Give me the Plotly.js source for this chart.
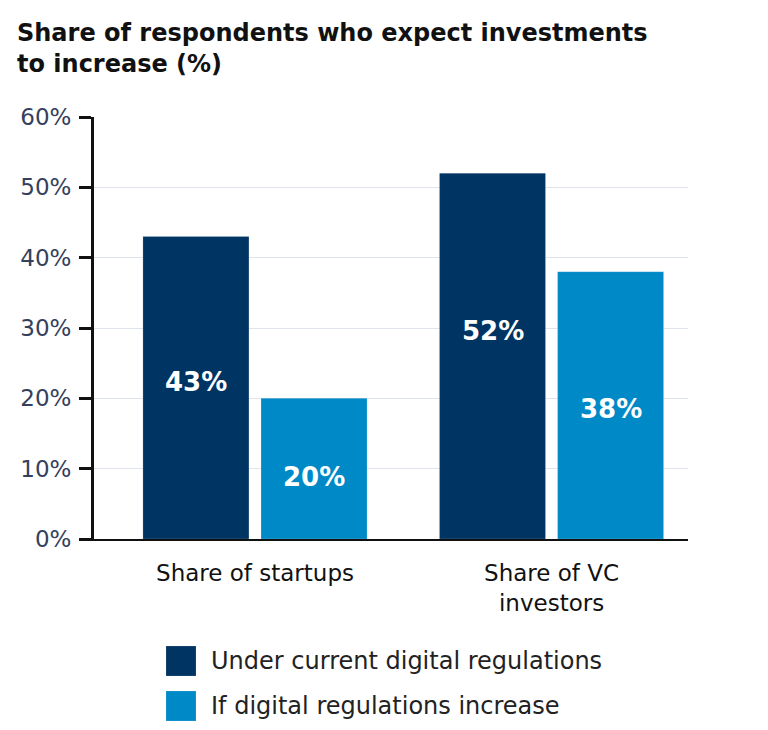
<!DOCTYPE html>
<html>
<head>
<meta charset="utf-8">
<script src="https://cdn.plot.ly/plotly-3.0.1.min.js"></script>
<style>
  html, body { margin: 0; padding: 0; background: #ffffff; }
  #chart { width: 768px; height: 730px; }
</style>
</head>
<body>
<div id="chart"></div>
<script>
// Survey categories and the two scenarios
const categories = ['Share of startups', 'Share of VC<br>investors'];
const seriesNames = ['Under current digital regulations', 'If digital regulations increase'];
const currentRegs = [43, 52];
const moreRegs = [20, 38];
const yTickVals = [0, 10, 20, 30, 40, 50, 60];
const yTickText = ['0%', '10%', '20%', '30%', '40%', '50%', '60%'];

const colors = ['#003462', '#0089C7'];
const values = [currentRegs, moreRegs];
const FONT = 'DejaVu Sans';

// plot area geometry (px)
const W = 768, H = 730;
const M = { l: 94, r: 80, t: 117, b: 191 };
const plotW = W - M.l - M.r, plotH = H - M.t - M.b;
const px2x = px => (px - M.l) / plotW;
const px2y = py => (H - M.b - py) / plotH;

const barWidth = 0.3575;
const offsets = [-0.378, 0.0202];

const traces = values.map((vals, s) => ({
  type: 'bar',
  x: [0, 1],
  y: vals,
  name: seriesNames[s],
  width: barWidth,
  offset: offsets[s],
  marker: { color: colors[s], line: { color: 'rgba(255,255,255,0.35)', width: 0.5 } },
  hoverinfo: 'skip',
  showlegend: false
}));

// value labels inside the bars, nudged vertically per bar
const labelShift = [[6, 25], [-8, -4]];
const annotations = [];
values.forEach((vals, s) => {
  vals.forEach((v, i) => {
    annotations.push({
      x: i + offsets[s] + barWidth / 2,
      y: v / 2,
      xref: 'x', yref: 'y',
      text: v + '%',
      showarrow: false,
      yshift: labelShift[s][i],
      font: { family: FONT, size: 26, color: '#ffffff', weight: 600 }
    });
  });
});

// legend drawn as swatches + text under the chart
const shapes = [];
const legendRows = [661, 706];
seriesNames.forEach((name, s) => {
  const cy = legendRows[s];
  shapes.push({
    type: 'rect', xref: 'paper', yref: 'paper',
    x0: px2x(166), x1: px2x(196), y0: px2y(cy - 15), y1: px2y(cy + 15),
    fillcolor: colors[s], line: { color: 'rgba(255,255,255,0.3)', width: 0.5 }
  });
  annotations.push({
    xref: 'paper', yref: 'paper',
    x: px2x(209), y: px2y(cy),
    xanchor: 'left', yanchor: 'middle',
    text: name, showarrow: false,
    font: { family: FONT, size: 24, color: '#222222' }
  });
});

const layout = {
  width: W, height: H,
  margin: M,
  paper_bgcolor: '#ffffff',
  plot_bgcolor: '#ffffff',
  barmode: 'overlay',
  title: {
    text: 'Share of respondents who expect investments<br>to increase (%)',
    xref: 'container', yref: 'container',
    x: 17 / W, xanchor: 'left',
    y: 1 - 41 / H, yanchor: 'top',
    font: { family: FONT, size: 24, color: '#111111', weight: 'bold' }
  },
  xaxis: {
    type: 'linear',
    range: [-0.543, 1.46],
    tickmode: 'array',
    tickvals: [0, 1],
    ticktext: categories,
    showgrid: false,
    zeroline: false,
    showline: true,
    linecolor: '#111111',
    linewidth: 2,
    ticks: '',
    tickfont: { family: FONT, size: 23, color: '#111111' },
    ticklabelstandoff: 12,
    fixedrange: true
  },
  yaxis: {
    range: [0, 60],
    tickmode: 'array',
    tickvals: yTickVals,
    ticktext: yTickText,
    showgrid: true,
    gridcolor: '#dfe4ea',
    gridwidth: 1,
    zeroline: false,
    showline: true,
    linecolor: '#111111',
    linewidth: 3,
    ticks: 'outside',
    ticklen: 12,
    tickwidth: 3,
    tickcolor: '#111111',
    tickfont: { family: FONT, size: 23, color: '#34405c' },
    ticklabelstandoff: 3,
    fixedrange: true
  },
  shapes: shapes,
  annotations: annotations
};

Plotly.newPlot('chart', traces, layout, { staticPlot: true, displayModeBar: false });
</script>
</body>
</html>
